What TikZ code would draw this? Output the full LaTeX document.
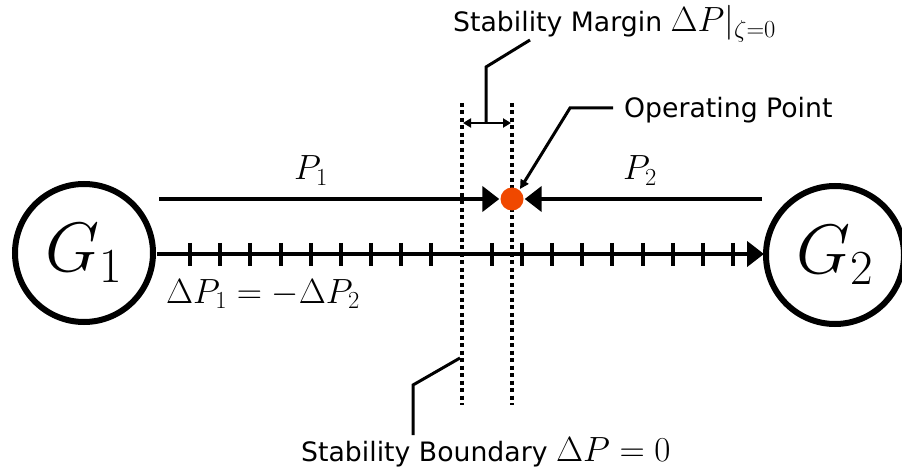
\RequirePackage{fix-cm}
\documentclass[tikz,border=0pt]{standalone}
\usepackage{fontspec}
\setmainfont{DejaVu Sans}
\usetikzlibrary{arrows.meta}
\definecolor{opdot}{RGB}{240,72,0}
\newcommand{\bigmath}[1]{{\fontsize{35}{40}\selectfont$#1$}}
\begin{document}
\begin{tikzpicture}[x=1pt,y=-1pt,
  gen/.style={circle, draw, line width=6pt, minimum size=138pt, inner sep=0pt, font=\fontsize{70}{80}\selectfont},
  flow/.style={line width=4.5pt, -{Triangle[length=17pt,width=25pt]}},
  dotline/.style={line width=4pt, dash pattern=on 4pt off 3.5pt},
  leader/.style={line width=3pt},
  tickmark/.style={line width=4pt},
  lbl/.style={font=\fontsize{26.7}{30}\selectfont, inner sep=0pt},
  mlbl/.style={font=\fontsize{35}{40}\selectfont, inner sep=0pt}]
\useasboundingbox (0,0) rectangle (902,470);

% generators
\node[gen] (g1) at (84,253) {$G_1$};
\node[gen] (g2) at (835,255) {$G_2$};

% stability boundaries (dotted)
\coordinate (b1t) at (462,103); \coordinate (b1b) at (462,405);
\coordinate (b2t) at (512,103); \coordinate (b2b) at (512,405);
\draw[dotline] (b1t) -- (b1b);
\draw[dotline] (b2t) -- (b2b);

% axis with ticks
\coordinate (ax1) at (157,254);
\coordinate (ax2) at (764,254);
\draw[flow] (ax1) -- (ax2);
\foreach \i in {0,...,18}{
  \ifnum\i=9\relax\else
  \draw[tickmark] ({190+30.17*\i},243) -- ({190+30.17*\i},266);
  \fi
}

% operating point
\node[circle, fill=opdot, minimum size=23pt, inner sep=0pt] (op) at (512,199) {};
\coordinate (p1s) at (159,199);
\coordinate (p2s) at (762,199);
\draw[flow, shorten >=1pt] (p1s) -- (op);
\draw[flow, shorten >=1pt] (p2s) -- (op);

% labels
\node[mlbl, anchor=base] (p1) at (311,180) {$P_1$};
\node[mlbl, anchor=base] (p2) at (640,180) {$P_2$};
\node[mlbl, anchor=base west] (dl) at (166,303) {$\Delta P_1 = -\Delta P_2$};
\node[lbl, anchor=base west] (ml) at (453,32) {Stability Margin \bigmath{\Delta P|_{\zeta=0}}};
\node[lbl, anchor=base west] (ol) at (624,118) {Operating Point};
\node[lbl, anchor=base west] (bl) at (301,461) {Stability Boundary \bigmath{\Delta P = 0}};

% margin arrow
\coordinate (ma1) at (463,123);
\coordinate (ma2) at (511,123);
\draw[leader, line width=2.5pt, {Triangle[length=8pt,width=9pt]}-{Triangle[length=8pt,width=9pt]}] (ma1) -- (ma2);

% leaders
\coordinate (ml1) at (486,122);
\coordinate (ml2) at (486,67);
\coordinate (ml3) at (530,40);
\draw[leader] (ml1) -- (ml2) -- (ml3);

\coordinate (ol1) at (613,108);
\coordinate (ol2) at (570,108);
\coordinate (ol3) at (520,189);
\draw[leader, -{Triangle[length=9pt,width=9pt]}] (ol1) -- (ol2) -- (ol3);

\coordinate (bl1) at (460,358);
\coordinate (bl2) at (413,385);
\coordinate (bl3) at (413,435);
\draw[leader] (bl1) -- (bl2) -- (bl3);
\end{tikzpicture}
\end{document}
